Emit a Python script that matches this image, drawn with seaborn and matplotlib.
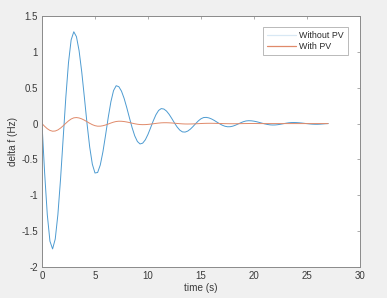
import numpy as np
import pandas as pd
import matplotlib.pyplot as plt
import seaborn as sns

# sample grid, 0.25 s
time_s = np.arange(0, 27.01, 0.25)

without_pv = [
    0.0, -0.69, -1.27, -1.64, -1.748, -1.61, -1.268, -0.775, -0.2, 0.369, 0.849, 1.167,
    1.28, 1.212, 1.016, 0.72, 0.364, -0.002, -0.327, -0.567, -0.689, -0.682, -0.577, -0.3925,
    -0.159, 0.086, 0.304, 0.46, 0.528, 0.514, 0.452, 0.3504, 0.221, 0.08, -0.056, -0.171,
    -0.2498, -0.284, -0.273, -0.226, -0.15, -0.057, 0.039, 0.123, 0.183, 0.209, 0.2027, 0.174,
    0.1275, 0.0696, 0.0083, -0.048, -0.0913, -0.116, -0.1187, -0.1047, -0.0773, -0.0407, -0.0003, 0.0376,
    0.0672, 0.0841, 0.0863, 0.0789, 0.0642, 0.0441, 0.021, -0.0021, -0.0222, -0.0369, -0.0443, -0.0437,
    -0.036, -0.0227, -0.006, 0.0113, 0.0263, 0.0365, 0.04, 0.0383, 0.0333, 0.0256, 0.0161, 0.0059,
    -0.0038, -0.0119, -0.0175, -0.0199, -0.0191, -0.0154, -0.0095, -0.0025, 0.0045, 0.0104, 0.0141, 0.015,
    0.0139, 0.0113, 0.0077, 0.0034, -0.001, -0.005, -0.008, -0.0097, -0.0098, -0.008, -0.005, -0.002,
    0.0,
]

with_pv = [
    0.0, -0.0384, -0.0717, -0.0954, -0.1064, -0.1037, -0.0884, -0.0628, -0.0304, 0.0046, 0.0375, 0.0637,
    0.0799, 0.0839, 0.0783, 0.0655, 0.0472, 0.0257, 0.0039, -0.0152, -0.0292, -0.0364, -0.036, -0.03,
    -0.0195, -0.0062, 0.0077, 0.0201, 0.029, 0.0329, 0.032, 0.0282, 0.022, 0.0141, 0.0056, -0.0025,
    -0.0091, -0.0135, -0.015, -0.0141, -0.0114, -0.0074, -0.0025, 0.0025, 0.0069, 0.0102, 0.0118, 0.0118,
    0.0104, 0.0081, 0.005, 0.0017, -0.0015, -0.004, -0.0056, -0.006, -0.0055, -0.0044, -0.0028, -0.001,
    0.0008, 0.0024, 0.0035, 0.004, 0.0039, 0.0033, 0.0024, 0.0013, 0.0002, -0.0008, -0.0015, -0.002,
    -0.0022, -0.002, -0.0015, -0.0008, 0.0, 0.0006, 0.001, 0.0012, 0.001, 0.0006, 0.0, 0.0,
    0.0, 0.0, 0.0, 0.0, 0.0, 0.0, 0.0, 0.0, 0.0, 0.0, 0.0, 0.0,
    0.0, 0.0, 0.0, 0.0, 0.0, 0.0, 0.0, 0.0, 0.0, 0.0, 0.0, 0.0,
    0.0,
]

series_names = ["Without PV", "With PV"]
colors = ["#4d9bd1", "#e08a6a"]

df = pd.DataFrame({
    "time": np.concatenate([time_s, time_s]),
    "delta_f": without_pv + with_pv,
    "series": [series_names[0]] * len(time_s) + [series_names[1]] * len(time_s),
})

sns.set_style("white")
plt.rcParams["font.family"] = ["Liberation Sans", "DejaVu Sans"]

fig = plt.figure(figsize=(3.87, 2.98), dpi=100, facecolor="#f0f0f0")
ax = fig.add_axes([0.1085, 0.104, 0.8217, 0.8423])
ax.set_facecolor("white")

sns.lineplot(data=df, x="time", y="delta_f", hue="series", hue_order=series_names,
             palette=colors, linewidth=0.7, ax=ax)

ax.set_xlim(0, 30)
ax.set_ylim(-2, 1.5)
ax.set_xticks(np.arange(0, 31, 5))
ax.set_yticks([-2, -1.5, -1, -0.5, 0, 0.5, 1, 1.5])
ax.set_yticklabels(["-2", "-1.5", "-1", "-0.5", "0", "0.5", "1", "1.5"])
ax.set_xlabel("time (s)", fontsize=7.2, color="#3a3a3a", labelpad=1.5)
ax.set_ylabel("delta f (Hz)", fontsize=7.2, color="#3a3a3a", labelpad=2)

ax.tick_params(direction="in", length=2.5, width=0.5, colors="#8a8a8a",
               labelcolor="#3a3a3a", labelsize=7, top=True, right=True, pad=3)
for sp in ax.spines.values():
    sp.set_color("#8a8a8a")
    sp.set_linewidth(0.7)

leg = ax.legend(loc="upper right", fontsize=6.4, frameon=True, fancybox=False,
                edgecolor="#9a9a9a", handlelength=3.3, borderpad=0.45,
                labelspacing=0.25, handletextpad=0.35, bbox_to_anchor=(0.975, 0.975))
leg.get_frame().set_linewidth(0.6)
leg_lines = leg.get_lines()
leg_lines[0].set_color("#d8e8f4")
leg_lines[1].set_color("#e08a6a")
for ln in leg_lines:
    ln.set_linewidth(0.9)
for t in leg.get_texts():
    t.set_color("#2a2a2a")

fig.savefig("out.png", dpi=100, facecolor=fig.get_facecolor())
